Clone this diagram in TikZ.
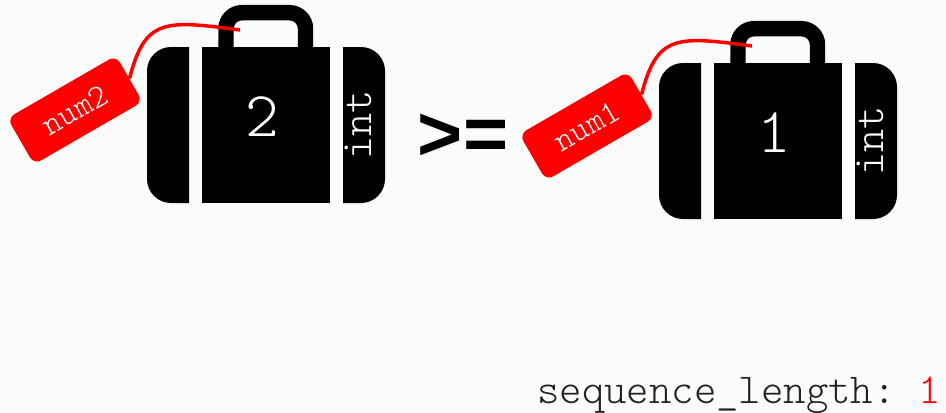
\documentclass[tikz,border=0pt]{standalone}
\usepackage{xcolor}
\usepackage{fontspec}
\setmonofont{Latin Modern Mono Light}
\setsansfont{Liberation Sans}
\usetikzlibrary{positioning,calc}
\definecolor{bgpaper}{HTML}{FBFBFB}
\definecolor{tagred}{HTML}{FF0000}
\definecolor{txtgray}{HTML}{222222}
\begin{document}
\begin{tikzpicture}[x=0.75pt,y=-0.75pt,
  tagbox/.style={fill=tagred, rounded corners=6pt, minimum width=94pt, minimum height=40pt,
    inner sep=0pt, rotate=30, text=white, font=\fontsize{25}{25}\selectfont\ttfamily},
  tagline/.style={draw=tagred, line width=2.6pt},
  valtext/.style={text=white, font=\fontsize{48}{48}\selectfont\ttfamily},
  typetext/.style={text=white, rotate=90, font=\fontsize{33}{33}\selectfont\ttfamily},
  opsign/.style={font=\fontsize{58}{58}\selectfont\sffamily\bfseries}]
\fill[bgpaper] (0,0) rectangle (946,412);
\useasboundingbox (0,0) rectangle (946,412);
% the two cases
\foreach \dx/\dy/\val/\nm in {0/0/2/2, 512/16/1/1} {
  \begin{scope}[shift={(\dx,\dy)}]
    \draw[line width=11.6pt, rounded corners=12pt, line cap=butt]
      (226,47) -- (226,12.7) -- (305.5,12.7) -- (305.5,47);
    \fill (189,47) [rounded corners=18pt] -- (147,47) -- (147,203) [sharp corners] -- (189,203) -- cycle;
    \fill (202,47) rectangle (330,203);
    \fill (343,203) [rounded corners=18pt] -- (385,203) -- (385,47) [sharp corners] -- (343,47) -- cycle;
    \node[valtext] (val\nm) at (262,117) {\val};
    \node[typetext] (type\nm) at (358,125) {int};
    \coordinate (hook\nm) at (240,30);
    \node[tagbox] (tag\nm) at (75,110) {num\nm};
    \draw[tagline] (tag\nm.east) .. controls (145,18) and (165,20) .. (hook\nm);
  \end{scope}
}
\node[opsign] (cmp) at (463,137) {>=};
\node[anchor=base west, inner sep=0pt, text=txtgray, font=\fontsize{32}{32}\selectfont\ttfamily]
  (seqlen) at (537,403) {sequence\_length: \textcolor{tagred}{1}};
\end{tikzpicture}
\end{document}
